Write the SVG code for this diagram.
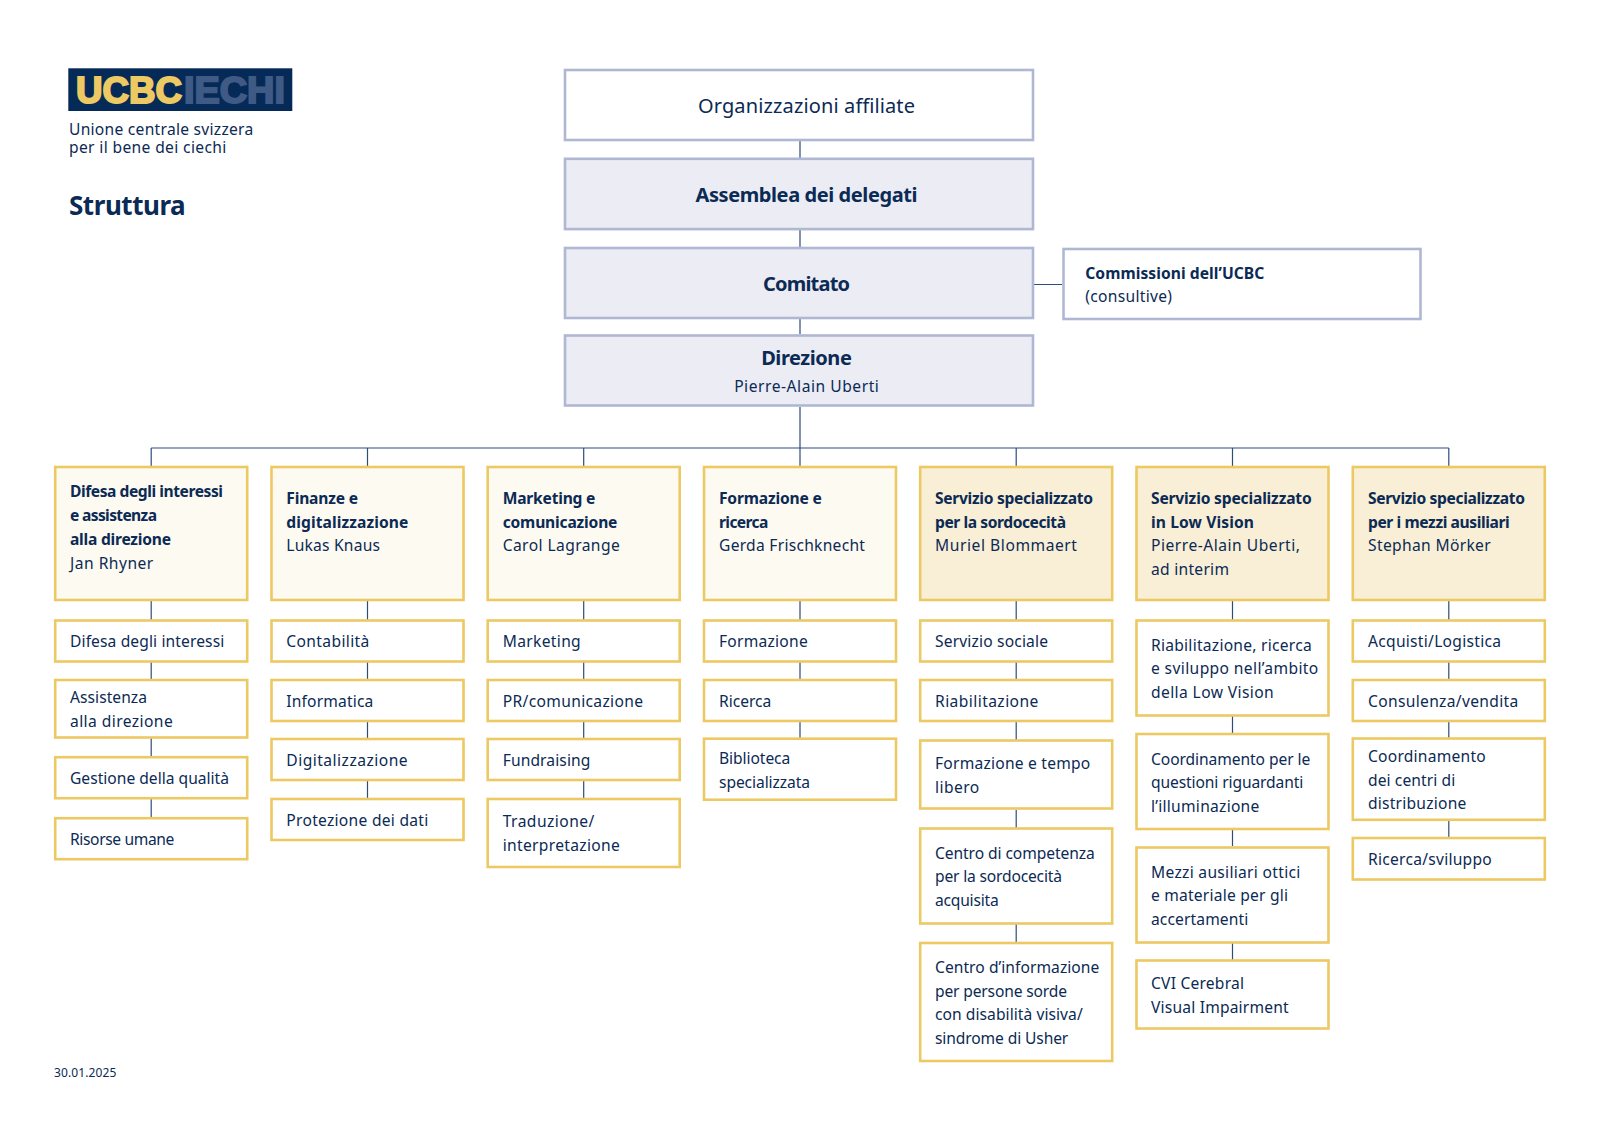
<svg xmlns="http://www.w3.org/2000/svg" width="1600" height="1131" viewBox="0 0 1600 1131">
<style>
text{font-family:"Noto Sans","Open Sans",sans-serif;fill:#0b2a54;font-size:15.6px}
.b{font-weight:700}
.m{text-anchor:middle}
.t{font-size:20px}
.top{fill:#fff;stroke:#b0b7d3;stroke-width:2.6}
.gr{fill:#ebecf4}
.h{fill:#fdfaf2;stroke:#edc963;stroke-width:2.6}
.hs{fill:#f8efd6;stroke:#edc963;stroke-width:2.6}
.s{fill:#fff;stroke:#edc963;stroke-width:2.6}
.c{stroke:#2f4d78;stroke-width:1.2;fill:none}
.lg{font-family:"Liberation Sans",sans-serif;font-size:37px;font-weight:700;stroke-width:2}
</style>
<rect width="1600" height="1131" fill="#fff"/>
<g id="connectors">
<path class="c" d="M800 141V158M800 230V247M800 319V334M800 407V466M1034 284.500H1062M151.200 448H1448.800M151.200 448V466M367.500 448V466M583.700 448V466M1016.200 448V466M1232.500 448V466M1448.800 448V466"/>
<path class="c" d="M151.200 600V620M151.200 662V679M151.200 738V756M151.200 799V817"/>
<path class="c" d="M367.500 600V620M367.500 662V679M367.500 722V738M367.500 781V798"/>
<path class="c" d="M583.700 600V620M583.700 662V679M583.700 722V738M583.700 781V798"/>
<path class="c" d="M800 600V620M800 662V679M800 722V738"/>
<path class="c" d="M1016.200 600V620M1016.200 662V679M1016.200 722V740M1016.200 810V828M1016.200 924V942"/>
<path class="c" d="M1232.500 600V620M1232.500 716V733M1232.500 830V846M1232.500 943V960"/>
<path class="c" d="M1448.800 600V620M1448.800 662V679M1448.800 722V738M1448.800 820V837"/>
</g>
<g id="logo">
<rect x="68.300" y="68.300" width="224" height="42.700" fill="#062a57"/>
<text x="76" y="103.300" class="lg" textLength="106" lengthAdjust="spacingAndGlyphs" style="fill:#edc963;stroke:#edc963">UCBC</text>
<text x="184" y="103.300" class="lg" textLength="101" lengthAdjust="spacingAndGlyphs" style="fill:#3f5a85;stroke:#3f5a85">IECHI</text>
<text x="69" y="135"><tspan style="letter-spacing:.27px">Unione centrale svizzera</tspan><tspan x="69" y="153.300" style="letter-spacing:.36px">per il bene dei ciechi</tspan></text>
</g>
<text id="title" x="69" y="215" class="b" style="font-size:26px" textLength="116.700">Struttura</text>
<text id="date" x="54" y="1076.700" style="font-size:12px" textLength="62.300">30.01.2025</text>
<g id="n-org"><rect class="top" x="565" y="70" width="468" height="70"/><text class="t m" x="806.500" y="112.700" textLength="217">Organizzazioni affiliate</text></g>
<g id="n-ass"><rect class="top gr" x="565" y="158.800" width="468" height="70.300"/><text class="t m b" x="806.500" y="201.700" textLength="222">Assemblea dei delegati</text></g>
<g id="n-com"><rect class="top gr" x="565" y="248" width="468" height="70"/><text class="t m b" x="806.500" y="290.700" textLength="87">Comitato</text></g>
<g id="n-dir"><rect class="top gr" x="565" y="335.500" width="468" height="70"/><text class="t m b" x="806.500" y="365" textLength="90.700">Direzione</text><text class="m" x="806.500" y="392.300" textLength="144.700">Pierre-Alain Uberti</text></g>
<g id="n-cons"><rect class="top" x="1063.500" y="249" width="357" height="70"/><text class="b" x="1085.300" y="278.700" textLength="179">Commissioni dell’UCBC</text><text x="1085.300" y="302.300" textLength="86.700">(consultive)</text></g>

<g id="h1"><rect class="h" x="55.200" y="467" width="192" height="133"/><text class="b" x="70" y="497.300" textLength="153">Difesa degli interessi</text><text class="b" x="70" y="521.300" textLength="87">e assistenza</text><text class="b" x="70" y="545.300" textLength="101">alla direzione</text><text x="70" y="569" textLength="83.300">Jan Rhyner</text></g>
<g id="h2"><rect class="h" x="271.500" y="467" width="192" height="133"/><text class="b" x="286.300" y="504" textLength="71.700">Finanze e</text><text class="b" x="286.300" y="528" textLength="122">digitalizzazione</text><text x="286.300" y="551.300" textLength="93.700">Lukas Knaus</text></g>
<g id="h3"><rect class="h" x="487.700" y="467" width="192" height="133"/><text class="b" x="502.700" y="504" textLength="92.700">Marketing e</text><text class="b" x="502.700" y="528" textLength="114.700">comunicazione</text><text x="502.700" y="551.300" textLength="117">Carol Lagrange</text></g>
<g id="h4"><rect class="h" x="704" y="467" width="192" height="133"/><text class="b" x="719" y="504" textLength="102.700">Formazione e</text><text class="b" x="719" y="528" textLength="49.300">ricerca</text><text x="719" y="551.300" textLength="146">Gerda Frischknecht</text></g>
<g id="h5"><rect class="hs" x="920.200" y="467" width="192" height="133"/><text class="b" x="935" y="504" textLength="158">Servizio specializzato</text><text class="b" x="935" y="528" textLength="131">per la sordocecità</text><text x="935" y="551.300" textLength="142">Muriel Blommaert</text></g>
<g id="h6"><rect class="hs" x="1136.500" y="467" width="192" height="133"/><text class="b" x="1151" y="504" textLength="160.700">Servizio specializzato</text><text class="b" x="1151" y="528" textLength="103">in Low Vision</text><text x="1151" y="551.300" textLength="149">Pierre-Alain Uberti,</text><text x="1151" y="575" textLength="78">ad interim</text></g>
<g id="h7"><rect class="hs" x="1352.800" y="467" width="192" height="133"/><text class="b" x="1368" y="504" textLength="157">Servizio specializzato</text><text class="b" x="1368" y="528" textLength="141.700">per i mezzi ausiliari</text><text x="1368" y="551.300" textLength="122.700">Stephan Mörker</text></g>

<g id="s1-1"><rect class="s" x="55.200" y="620.500" width="192" height="41"/><text x="70" y="647.300" textLength="154.300">Difesa degli interessi</text></g>
<g id="s1-2"><rect class="s" x="55.200" y="680" width="192" height="57.500"/><text x="70" y="703.300" textLength="77">Assistenza</text><text x="70" y="727" textLength="102.700">alla direzione</text></g>
<g id="s1-3"><rect class="s" x="55.200" y="757.200" width="192" height="41"/><text x="70" y="784.300" textLength="159">Gestione della qualità</text></g>
<g id="s1-4"><rect class="s" x="55.200" y="818.200" width="192" height="41"/><text x="70" y="845.300" textLength="104.300">Risorse umane</text></g>

<g id="s2-1"><rect class="s" x="271.500" y="620.500" width="192" height="41"/><text x="286.300" y="647.300" textLength="83">Contabilità</text></g>
<g id="s2-2"><rect class="s" x="271.500" y="680" width="192" height="41"/><text x="286.300" y="706.700" textLength="87">Informatica</text></g>
<g id="s2-3"><rect class="s" x="271.500" y="739" width="192" height="41"/><text x="286.300" y="766" textLength="121.300">Digitalizzazione</text></g>
<g id="s2-4"><rect class="s" x="271.500" y="799" width="192" height="41"/><text x="286.300" y="826" textLength="142">Protezione dei dati</text></g>

<g id="s3-1"><rect class="s" x="487.700" y="620.500" width="192" height="41"/><text x="502.700" y="647.300" textLength="78">Marketing</text></g>
<g id="s3-2"><rect class="s" x="487.700" y="680" width="192" height="41"/><text x="502.700" y="706.700" textLength="140.300">PR/comunicazione</text></g>
<g id="s3-3"><rect class="s" x="487.700" y="739" width="192" height="41"/><text x="502.700" y="766" textLength="87.700">Fundraising</text></g>
<g id="s3-4"><rect class="s" x="487.700" y="799" width="192" height="68"/><text x="502.700" y="827" textLength="91.700">Traduzione/</text><text x="502.700" y="851" textLength="117">interpretazione</text></g>

<g id="s4-1"><rect class="s" x="704" y="620.500" width="192" height="41"/><text x="719" y="647.300" textLength="88.700">Formazione</text></g>
<g id="s4-2"><rect class="s" x="704" y="680" width="192" height="41"/><text x="719" y="706.700" textLength="52.300">Ricerca</text></g>
<g id="s4-3"><rect class="s" x="704" y="738.700" width="192" height="61"/><text x="719" y="764" textLength="71.300">Biblioteca</text><text x="719" y="787.700" textLength="91">specializzata</text></g>

<g id="s5-1"><rect class="s" x="920.200" y="620.500" width="192" height="41"/><text x="935" y="647.300" textLength="113">Servizio sociale</text></g>
<g id="s5-2"><rect class="s" x="920.200" y="680" width="192" height="41"/><text x="935" y="706.700" textLength="103.300">Riabilitazione</text></g>
<g id="s5-3"><rect class="s" x="920.200" y="740.500" width="192" height="68"/><text x="935" y="769.300" textLength="155.300">Formazione e tempo</text><text x="935" y="793" textLength="44.300">libero</text></g>
<g id="s5-4"><rect class="s" x="920.200" y="828.500" width="192" height="95"/><text x="935" y="858.700" textLength="159.700">Centro di competenza</text><text x="935" y="882.300" textLength="127">per la sordocecità</text><text x="935" y="906" textLength="63.700">acquisita</text></g>
<g id="s5-5"><rect class="s" x="920.200" y="943" width="192" height="118"/><text x="935" y="973" textLength="164.300">Centro d’informazione</text><text x="935" y="996.700" textLength="132">per persone sorde</text><text x="935" y="1020.300" textLength="147.700">con disabilità visiva/</text><text x="935" y="1044" textLength="133.300">sindrome di Usher</text></g>

<g id="s6-1"><rect class="s" x="1136.500" y="620.500" width="192" height="95"/><text x="1151" y="650.700" textLength="160.700">Riabilitazione, ricerca</text><text x="1151" y="674.300" textLength="167.300">e sviluppo nell’ambito</text><text x="1151" y="698" textLength="122.700">della Low Vision</text></g>
<g id="s6-2"><rect class="s" x="1136.500" y="734" width="192" height="95"/><text x="1151" y="764.700" textLength="159.300">Coordinamento per le</text><text x="1151" y="788.300" textLength="152.300">questioni riguardanti</text><text x="1151" y="812" textLength="108.300">l’illuminazione</text></g>
<g id="s6-3"><rect class="s" x="1136.500" y="847.500" width="192" height="95"/><text x="1151" y="877.700" textLength="149.300">Mezzi ausiliari ottici</text><text x="1151" y="901.300" textLength="137">e materiale per gli</text><text x="1151" y="925" textLength="97.300">accertamenti</text></g>
<g id="s6-4"><rect class="s" x="1136.500" y="960.500" width="192" height="68"/><text x="1151" y="989" textLength="93">CVI Cerebral</text><text x="1151" y="1012.700" textLength="137.700">Visual Impairment</text></g>

<g id="s7-1"><rect class="s" x="1352.800" y="620.500" width="192" height="41"/><text x="1368" y="647.300" textLength="133">Acquisti/Logistica</text></g>
<g id="s7-2"><rect class="s" x="1352.800" y="680" width="192" height="41"/><text x="1368" y="706.700" textLength="150.300">Consulenza/vendita</text></g>
<g id="s7-3"><rect class="s" x="1352.800" y="738.500" width="192" height="81.300"/><text x="1368" y="762" textLength="117.700">Coordinamento</text><text x="1368" y="785.700" textLength="87.300">dei centri di</text><text x="1368" y="809.300" textLength="98.300">distribuzione</text></g>
<g id="s7-4"><rect class="s" x="1352.800" y="838" width="192" height="41.500"/><text x="1368" y="865.300" textLength="123.700">Ricerca/sviluppo</text></g>
</svg>
